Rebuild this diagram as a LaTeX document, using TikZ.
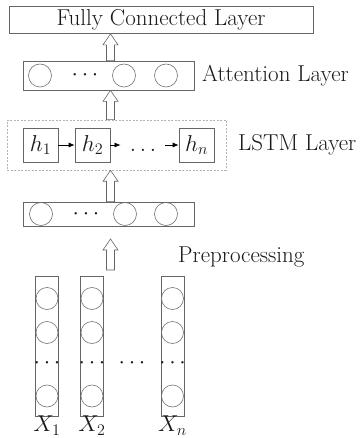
\RequirePackage{fix-cm}
\documentclass[tikz,border=0pt]{standalone}
\usepackage{fontspec}
\usetikzlibrary{positioning,calc,arrows.meta}
\tikzset{layer/.style={draw=black!60,line width=0.7pt,inner sep=0pt},
        unit/.style={draw=black!55,line width=0.6pt,circle,minimum size=23pt,inner sep=0pt},
        hbox/.style={draw=black!60,line width=0.7pt,minimum width=35pt,minimum height=34pt,inner sep=0pt},
        lstmbox/.style={draw=black!30,line width=0.6pt,dash pattern=on 2pt off 1.5pt,inner sep=0pt},
        lbl/.style={anchor=west,inner sep=0pt},
        link/.style={-{Latex[length=6pt,width=5pt]},line width=0.7pt},
        hollow/.style={draw=black!60,line width=0.6pt,fill=white}}
\newcommand{\hollowup}[2]{%
  \draw[hollow] ($(#1)+(-4,0)$) -- ($(#2)+(-4,11)$) -- ($(#2)+(-7.5,11)$) -- (#2)
     -- ($(#2)+(7.5,11)$) -- ($(#2)+(4,11)$) -- ($(#1)+(4,0)$) -- cycle;}

\begin{document}
\begin{tikzpicture}[x=1pt,y=-1pt,font=\fontsize{23}{27}\selectfont,text=black!90]
\useasboundingbox (0,0) rectangle (360,438);
% fully connected
\node[layer,minimum width=304pt,minimum height=27pt] (fc) at (161,20) {Fully Connected Layer};
% attention
\node[layer,minimum width=171pt,minimum height=29pt] (att) at (108.5,75.5) {};
\foreach \cx/\nm in {40/a1,124/a2,166/a3}
  \node[unit] (\nm) at (\cx,75.5) {};
\node (adots) at (85,75.5) {$\cdots$};
\node[lbl] (attlbl) at (202,75.5) {Attention Layer};
% lstm
\node[lstmbox,minimum width=219pt,minimum height=50pt] (lstm) at (116.5,145) {};
\node[hbox] (h1) at (40.5,145) {$h_1$};
\node[hbox] (h2) at (92.5,145) {$h_2$};
\node[anchor=base,inner xsep=9pt] (hdots) at (143,152) {$\ldots$};
\node[hbox] (hn) at (196.5,145) {$h_n$};
\draw[link] (h1) -- (h2);
\draw[link] (h2) -- (h2 -| hdots.west);
\draw[link] (hdots.east |- hn) -- (hn);
\node[lbl] (lstmlbl) at (238,145) {LSTM Layer};
% embedding
\node[layer,minimum width=171pt,minimum height=24pt] (emb) at (108.5,214) {};
\foreach \cx/\nm in {41/e1,125/e2,166/e3}
  \node[unit] (\nm) at (\cx,214) {};
\node (edots) at (86,214) {$\cdots$};
\node[lbl] (prelbl) at (178,257) {Preprocessing};
% inputs
\foreach \cx/\k in {47/1,92/2,172.5/n}{
  \node[layer,minimum width=23pt,minimum height=140pt] (col\k) at (\cx,346) {};
  \node[unit,minimum size=22pt] (x\k-1) at (\cx,298.5) {};
  \node[unit,minimum size=22pt] (x\k-2) at (\cx,332.5) {};
  \node (x\k-d) at (\cx,363) {$\cdots$};
  \node[unit,minimum size=22pt] (x\k-3) at (\cx,396) {};
  \node[anchor=south,inner sep=0pt] (lx\k) at ($(col\k.south)+(0,19)$) {$X_\k$};
}
\node (coldots) at (132,363) {$\cdots$};
% hollow arrows
\coordinate (ax) at (110.5,0);
\hollowup{att.north -| ax}{fc.south -| ax}
\hollowup{lstm.north -| ax}{att.south -| ax}
\hollowup{emb.north -| ax}{lstm.south -| ax}
\coordinate (pbot) at (110.5,270);
\coordinate (ptop) at (110.5,239);
\hollowup{pbot}{ptop}
\end{tikzpicture}
\end{document}
